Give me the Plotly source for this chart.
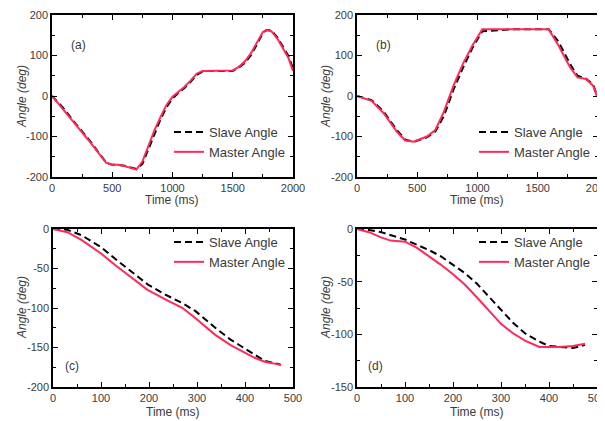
import plotly.graph_objects as go

# ---- data ----
t_a = [0, 100, 200, 300, 400, 450, 500, 550, 600, 650, 700, 750, 800, 850, 900, 950, 1000, 1050, 1100,
       1150, 1200, 1250, 1300, 1400, 1500, 1550, 1600, 1650, 1700, 1750, 1780, 1820, 1870, 1920, 1960, 2000]
master_a = [0, -35, -72, -108, -148, -165, -170, -170, -173, -177, -182, -162, -122, -85, -52, -22, -2, 10, 23,
            38, 55, 62, 62, 62, 63, 72, 85, 105, 133, 158, 163, 160, 142, 115, 95, 62]
slave_a = [0, -32, -70, -105, -145, -164, -170, -170, -172, -176, -180, -168, -130, -92, -58, -28, -6, 8, 20,
           35, 52, 61, 62, 62, 62, 70, 82, 100, 128, 155, 163, 162, 145, 120, 100, 68]

t_b = [0, 120, 220, 330, 400, 470, 580, 650, 720, 800, 880, 960, 1040, 1300, 1590, 1670, 1770, 1830, 1900, 1960, 1990]
master_b = [0, -12, -42, -88, -110, -113, -100, -84, -40, 25, 80, 126, 165, 165, 165, 126, 70, 46, 42, 25, 0]
slave_b = [0, -10, -38, -84, -108, -113, -102, -88, -50, 15, 70, 120, 160, 165, 165, 135, 78, 50, 43, 28, 2]

t_c = [0, 30, 60, 100, 130, 166, 197, 234, 270, 297, 338, 370, 397, 420, 441, 469, 475]
master_c = [0, -4, -14, -31, -46, -63, -77, -89, -100, -113, -134, -147, -156, -163, -168, -172, -172]
slave_c = [0, -1, -8, -23, -38, -55, -70, -83, -94, -104, -125, -140, -150, -159, -167, -171, -172]

t_d = [0, 25, 50, 70, 100, 125, 150, 175, 200, 225, 250, 275, 300, 325, 350, 380, 400, 420, 450, 475]
master_d = [0, -3, -8, -11, -12, -18, -26, -34, -43, -53, -65, -78, -90, -99, -106, -112, -112, -112, -111, -109]
slave_d = [0, -1, -3, -6, -10, -15, -20, -26, -34, -42, -52, -64, -77, -89, -99, -107, -111, -112, -113, -110]

panel_labels = ["(a)", "(b)", "(c)", "(d)"]
x_title = "Time (ms)"
y_title = "<i>Angle (deg)</i>"
x_ranges = [[0, 2000], [0, 2000], [0, 500], [0, 500]]
y_ranges = [[-200, 200], [-200, 200], [-200, 0], [-150, 0]]
x_ticks = [[0, 500, 1000, 1500, 2000], [0, 500, 1000, 1500, 2000],
           [0, 100, 200, 300, 400, 500], [0, 100, 200, 300, 400, 500]]
y_ticks = [[-200, -100, 0, 100, 200], [-200, -100, 0, 100, 200],
           [-200, -150, -100, -50, 0], [-150, -100, -50, 0]]
x_minor = [250, 250, 50, 50]
y_minor = [50, 50, 25, 25]

RED = "#ff2a5a"
FONT = "Liberation Sans, Arial, sans-serif"
GREY = "#3a3a3a"

W, H = 605, 421
OFF = 8  # page body margin
def px(x): return (x - OFF) / W
def py(y): return 1 - (y - OFF) / H

# panel pixel boxes (screen): left, right, top, bottom
boxes = [(52, 293, 15, 177), (357, 598, 15, 177), (53, 293, 229, 387), (357, 597, 229, 387)]

data = [(t_a, slave_a, master_a), (t_b, slave_b, master_b), (t_c, slave_c, master_c), (t_d, slave_d, master_d)]

fig = go.Figure()
legend_names = ["legend", "legend2", "legend3", "legend4"]
legend_pos = [(169, 117), (474, 117), (169, 227), (474, 227)]

for i, (t, s, m) in enumerate(data):
    xa = "x" if i == 0 else f"x{i+1}"
    ya = "y" if i == 0 else f"y{i+1}"
    fig.add_trace(go.Scatter(x=t, y=s, mode="lines", name="Slave Angle", xaxis=xa, yaxis=ya,
                             line=dict(color="black", width=2, dash="7px,4px"), legend=legend_names[i]))
    fig.add_trace(go.Scatter(x=t, y=m, mode="lines", name="Master Angle", xaxis=xa, yaxis=ya,
                             line=dict(color=RED, width=2), legend=legend_names[i]))

layout = dict(width=W, height=H, margin=dict(l=0, r=0, t=0, b=0, autoexpand=False),
              paper_bgcolor="white", plot_bgcolor="white",
              font=dict(family=FONT, size=11, color=GREY))

for i in range(4):
    l, r, t, b = boxes[i]
    key = "" if i == 0 else str(i + 1)
    layout["xaxis" + key] = dict(
        domain=[px(l), px(r)], range=x_ranges[i],
        tickvals=x_ticks[i], ticktext=[str(v) for v in x_ticks[i]],
        anchor="y" + key, showgrid=False, zeroline=False, automargin=False,
        showline=True, linecolor="black", linewidth=1.5, mirror="ticks",
        ticks="inside", ticklen=5, tickwidth=1.2, tickcolor="black",
        minor=dict(ticks="inside", ticklen=3, dtick=x_minor[i], tick0=0, tickcolor="black", showgrid=False),
        tickfont=dict(size=11, color=GREY),
    )
    layout["yaxis" + key] = dict(
        domain=[py(b), py(t)], range=y_ranges[i],
        tickvals=y_ticks[i], ticktext=[str(v) for v in y_ticks[i]],
        anchor="x" + key, showgrid=False, zeroline=False, automargin=False,
        showline=True, linecolor="black", linewidth=1.5, mirror="ticks",
        ticks="inside", ticklen=5, tickwidth=1.2, tickcolor="black",
        minor=dict(ticks="inside", ticklen=3, dtick=y_minor[i], tick0=0, tickcolor="black", showgrid=False),
        tickfont=dict(size=11, color=GREY),
    )
    lx, ly = legend_pos[i]
    layout[legend_names[i]] = dict(x=px(lx), y=py(ly), xanchor="left", yanchor="top",
                                   bgcolor="rgba(0,0,0,0)", font=dict(size=13, color=GREY),
                                   tracegroupgap=0, itemwidth=30)

fig.update_layout(**layout)

label_pos = [(78, 45), (383, 45), (72, 366), (376, 366)]
for lab, (x, y) in zip(panel_labels, label_pos):
    fig.add_annotation(text=lab, x=px(x), y=py(y), xref="paper", yref="paper",
                       xanchor="center", yanchor="middle",
                       showarrow=False, font=dict(size=12, color=GREY))

# axis titles
x_title_pos = [(172, 200), (477, 200), (173, 412), (477, 412)]
y_title_pos = [(22, 97), (326, 97), (22, 308), (326, 308)]
for (x, y) in x_title_pos:
    fig.add_annotation(text=x_title, x=px(x), y=py(y), xref="paper", yref="paper",
                       xanchor="center", yanchor="middle",
                       showarrow=False, font=dict(size=12, color=GREY))
for (x, y) in y_title_pos:
    fig.add_annotation(text=y_title, x=px(x), y=py(y), xref="paper", yref="paper",
                       xanchor="center", yanchor="middle", textangle=-90,
                       showarrow=False, font=dict(size=12, color=GREY))

fig.write_html("out.html")
